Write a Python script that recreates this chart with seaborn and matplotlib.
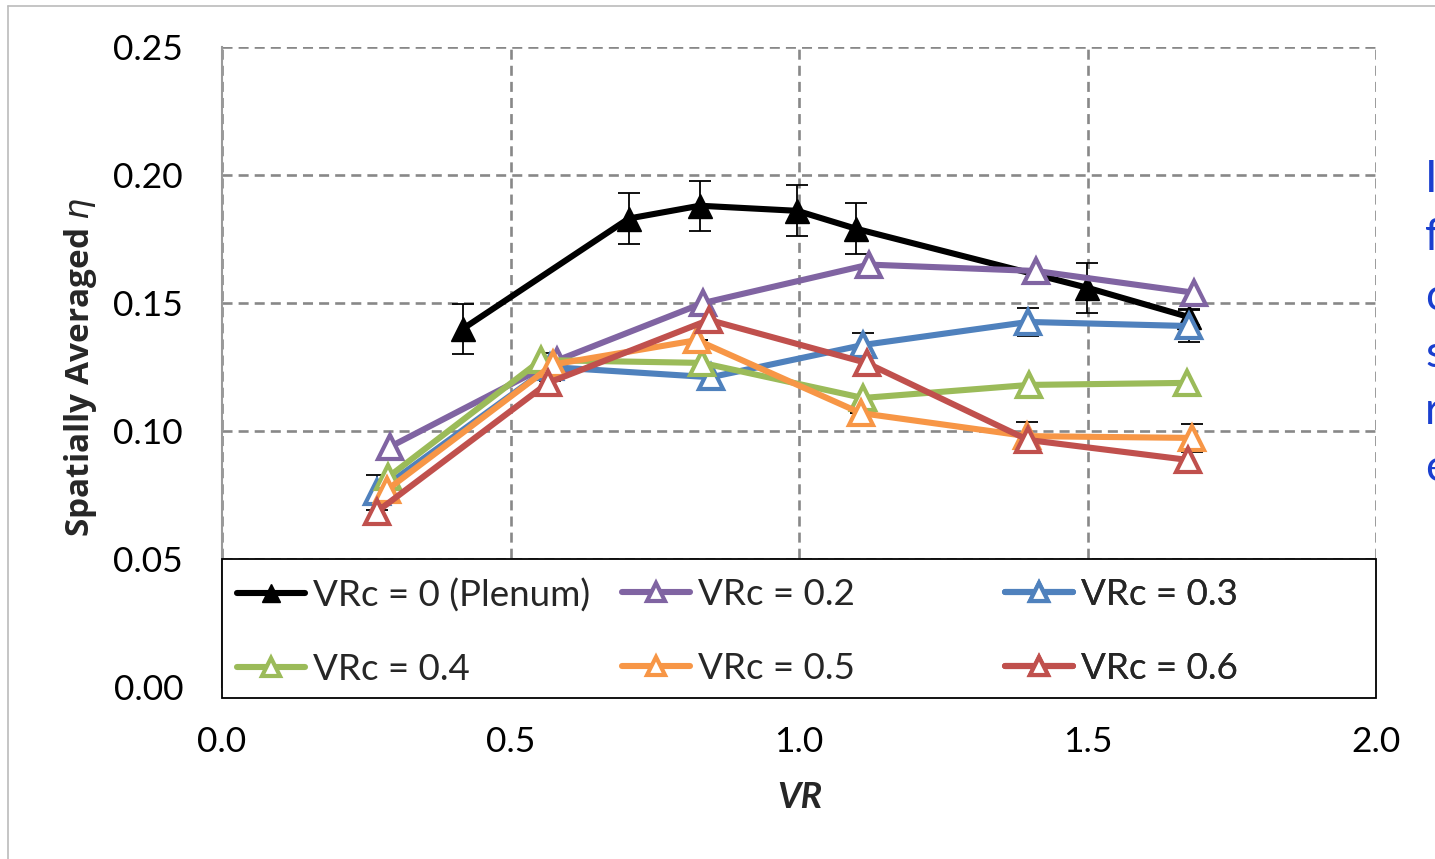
import matplotlib
matplotlib.use("Agg")
import matplotlib.pyplot as plt
from matplotlib.patches import Rectangle
import numpy as np
import seaborn as sns

# data
vr_0 = [0.418, 0.705, 0.828, 0.997, 1.099, 1.499, 1.676]
eta_0 = [0.140, 0.183, 0.188, 0.186, 0.179, 0.156, 0.1445]
err_0 = [0.0098, 0.0100, 0.0098, 0.0100, 0.0100, 0.0098, 0.0030]

vr_02 = [0.291, 0.580, 0.834, 1.121, 1.411, 1.685]
eta_02 = [0.0938, 0.1275, 0.150, 0.165, 0.1625, 0.154]

vr_03 = [0.268, 0.568, 0.847, 1.111, 1.397, 1.676]
eta_03 = [0.076, 0.125, 0.121, 0.1336, 0.1426, 0.141]
err_03 = [0.007, 0.0055, 0.004, 0.0047, 0.0056, 0.0063]

vr_04 = [0.288, 0.553, 0.832, 1.111, 1.399, 1.673]
eta_04 = [0.082, 0.1277, 0.1266, 0.1129, 0.118, 0.1188]

vr_05 = [0.286, 0.574, 0.823, 1.107, 1.395, 1.681]
eta_05 = [0.077, 0.126, 0.1355, 0.107, 0.098, 0.0973]
err_05 = [0.0, 0.0, 0.0, 0.0, 0.0055, 0.0055]

vr_06 = [0.268, 0.565, 0.844, 1.117, 1.397, 1.674]
eta_06 = [0.0684, 0.1188, 0.1434, 0.1266, 0.0965, 0.0887]

labels = ["VRc = 0 (Plenum)", "VRc = 0.2", "VRc = 0.3",
          "VRc = 0.4", "VRc = 0.5", "VRc = 0.6"]
colors = ["#000000", "#8064A2", "#4F81BD", "#9BBB59", "#F79646", "#C0504D"]

series = [(vr_0, eta_0), (vr_02, eta_02), (vr_03, eta_03),
          (vr_04, eta_04), (vr_05, eta_05), (vr_06, eta_06)]
errs = {0: err_0, 2: err_03, 4: err_05}

sns.set_style("white")
plt.rcParams['font.family'] = ['Lato', 'DejaVu Sans']
plt.rcParams['mathtext.fontset'] = 'dejavusans'

fig = plt.figure(figsize=(14.35, 8.59), dpi=100)
ax = fig.add_axes([222 / 1435, 1 - 687 / 859, (1376 - 222) / 1435, 640 / 859])

# error bars first, so markers sit on top
for i, e in errs.items():
    x, y = series[i]
    ax.errorbar(x, y, yerr=e, fmt='none', ecolor='black', elinewidth=1.3,
                capsize=8, capthick=1.3, zorder=2)

for i, (x, y) in enumerate(series):
    face = colors[i] if i == 0 else 'white'
    sns.lineplot(x=x, y=y, ax=ax, color=colors[i], linewidth=4.4,
                 marker='^', markersize=17, markerfacecolor=face,
                 markeredgecolor=colors[i], markeredgewidth=3 if i else 1,
                 label=labels[i], zorder=3 + i)

ax.set_xlim(0, 2.0)
ax.set_ylim(0, 0.25)
ax.set_xticks(np.arange(0, 2.01, 0.5))
ax.set_yticks(np.arange(0, 0.251, 0.05))
ax.set_xticklabels(['%.1f' % v for v in np.arange(0, 2.01, 0.5)])
ax.set_yticklabels(['%.2f' % v for v in np.arange(0, 0.251, 0.05)])
ax.tick_params(axis='both', length=0, labelsize=25.5, colors='black')
ax.tick_params(axis='y', pad=28)
ax.tick_params(axis='x', pad=28)

ax.grid(True, color='#888888', linewidth=1.9, linestyle=(0, (3.8, 2.3)))
for s in ['top', 'right', 'bottom']:
    ax.spines[s].set_visible(False)
ax.spines['left'].set_color('#999999')
ax.spines['left'].set_linewidth(1.5)
ax.spines['left'].set_zorder(1)

ax.set_xlabel('VR', fontsize=26, fontweight='bold', fontstyle='italic', va='center')
ax.xaxis.set_label_coords(0.501, -0.172)
ax.set_ylabel(r'Spatially Averaged $\eta$', fontsize=24, fontweight='bold',
              va='center', family=['Open Sans', 'DejaVu Sans'])
ax.yaxis.set_label_coords(-0.123, 0.5)

# legend box spanning the lower band of the plot, three columns inside
ax.get_legend().remove()
frame = Rectangle((0, -0.017), 1.0, 0.217, transform=ax.transAxes,
                  facecolor='white', edgecolor='black', linewidth=1.3,
                  clip_on=False, zorder=15)
ax.add_patch(frame)

h, l = ax.get_legend_handles_labels()
col_x = [0.013, 0.3466, 0.6785]
for c in range(3):
    leg = ax.legend([h[c], h[c + 3]], [l[c], l[c + 3]], loc='upper left',
                    bbox_to_anchor=(col_x[c], 0.170), borderaxespad=0,
                    borderpad=0, frameon=False, fontsize=26.5,
                    handlelength=1.85, handletextpad=0.22, labelspacing=1.1,
                    markerscale=0.75)
    leg.set_zorder(20)
    ax.add_artist(leg)

# clipped text from the surrounding page at the right edge
for txt, yp in zip(['I', 'f', 'c', 's', 'r', 'e'], [180, 237, 297, 354, 411, 468]):
    fig.text(1425 / 1435, 1 - yp / 859, txt, fontsize=32, color='#1a3fcf',
             ha='left', va='center')

# thin page border
fig.add_artist(plt.Line2D([8 / 1435, 8 / 1435], [0, 1 - 6 / 859],
                          color='#bbbbbb', linewidth=1.2))
fig.add_artist(plt.Line2D([8 / 1435, 1], [1 - 6 / 859, 1 - 6 / 859],
                          color='#bbbbbb', linewidth=1.2))

fig.savefig('out.png', dpi=100)
